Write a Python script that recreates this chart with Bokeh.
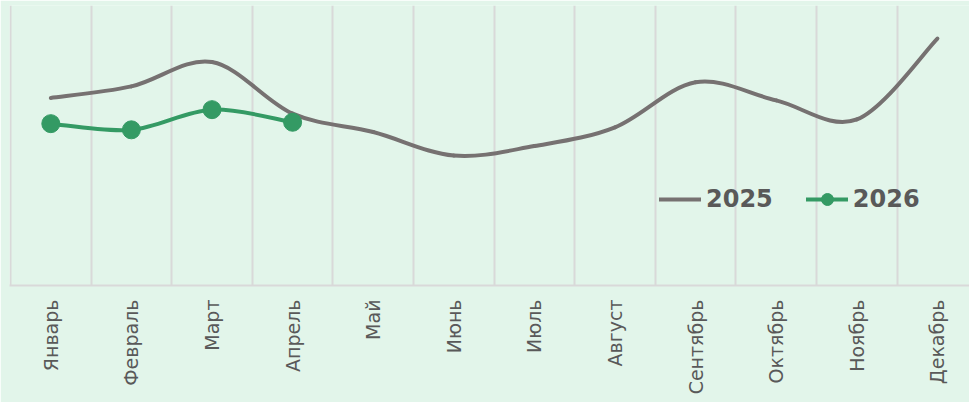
import math
from bokeh.plotting import figure
from bokeh.models import Range1d, FixedTicker, Legend, LegendItem, ColumnDataSource
from bokeh.embed import file_html
from bokeh.resources import INLINE

months = ["Январь", "Февраль", "Март", "Апрель", "Май", "Июнь", "Июль",
          "Август", "Сентябрь", "Октябрь", "Ноябрь", "Декабрь"]
values_2025 = [67.0, 71.1, 79.8, 61.4, 54.8, 46.4, 49.8, 56.5, 72.6, 66.1, 59.3, 88.2]
values_2026 = [57.8, 55.6, 62.8, 58.3]
series_names = ["2025", "2026"]

BG = "#E2F5EA"
GRID = "#D9D9D9"
GREY = "#767171"
GREEN = "#349A64"
TEXT = "#595959"
FONT = "DejaVu Sans"

PX_PER_CAT = 80.6
W, H = 969, 402
LEFT, TOP, BOTTOM = 9, 5, 117
x_start = -0.5 - 1 / PX_PER_CAT
x_end = x_start + (W - LEFT) / PX_PER_CAT

p = figure(width=W, height=H, output_backend="svg", toolbar_location=None,
           x_range=Range1d(x_start, x_end), y_range=Range1d(0, 100),
           y_axis_location=None, min_border_left=LEFT, min_border_right=0,
           min_border_top=TOP, min_border_bottom=BOTTOM)
p.background_fill_color = BG
p.border_fill_color = BG
p.outline_line_color = None

p.ygrid.visible = False
p.xgrid.ticker = FixedTicker(ticks=[i - 0.5 for i in range(len(months) + 1)])
p.xgrid.grid_line_color = GRID
p.xgrid.grid_line_width = 2

ax = p.xaxis[0]
ax.ticker = FixedTicker(ticks=list(range(len(months))))
ax.major_label_overrides = {i: m for i, m in enumerate(months)}
ax.major_label_orientation = math.pi / 2
ax.major_label_text_font = FONT
ax.major_label_text_font_size = "19px"
ax.major_label_text_color = TEXT
ax.major_label_standoff = 14
ax.major_tick_out = 0
ax.major_tick_in = 0
ax.major_tick_line_color = None
ax.minor_tick_line_color = None
ax.axis_line_color = GRID
ax.axis_line_width = 2


def smooth_segments(vals):
    # Catmull-Rom style control points (as in spreadsheet "smoothed line")
    n = len(vals)
    xs = list(range(n))
    d = dict(x0=[], y0=[], x1=[], y1=[], cx0=[], cy0=[], cx1=[], cy1=[])
    for i in range(n - 1):
        im1 = max(i - 1, 0)
        ip2 = min(i + 2, n - 1)
        d["x0"].append(xs[i]); d["y0"].append(vals[i])
        d["x1"].append(xs[i + 1]); d["y1"].append(vals[i + 1])
        d["cx0"].append(xs[i] + (xs[i + 1] - xs[im1]) / 6)
        d["cy0"].append(vals[i] + (vals[i + 1] - vals[im1]) / 6)
        d["cx1"].append(xs[i + 1] - (xs[ip2] - xs[i]) / 6)
        d["cy1"].append(vals[i + 1] - (vals[ip2] - vals[i]) / 6)
    return ColumnDataSource(d)


r25 = p.bezier(x0="x0", y0="y0", x1="x1", y1="y1", cx0="cx0", cy0="cy0",
               cx1="cx1", cy1="cy1", source=smooth_segments(values_2025),
               line_color=GREY, line_width=4, line_cap="round")
r26 = p.bezier(x0="x0", y0="y0", x1="x1", y1="y1", cx0="cx0", cy0="cy0",
               cx1="cx1", cy1="cy1", source=smooth_segments(values_2026),
               line_color=GREEN, line_width=4, line_cap="round")
s26 = p.scatter(x=list(range(len(values_2026))), y=values_2026, size=18,
                fill_color=GREEN, line_color=GREEN)

legend = Legend(items=[LegendItem(label=series_names[0], renderers=[r25]),
                       LegendItem(label=series_names[1], renderers=[r26, s26])],
                location=(650, 71), orientation="horizontal",
                background_fill_alpha=0, border_line_color=None,
                padding=0, margin=0, spacing=33,
                glyph_width=42, glyph_height=30, label_standoff=5,
                label_text_font=FONT, label_text_font_size="24px",
                label_text_font_style="bold", label_text_color=TEXT)
p.add_layout(legend, "center")

open("out.html", "w").write(file_html(p, INLINE))
